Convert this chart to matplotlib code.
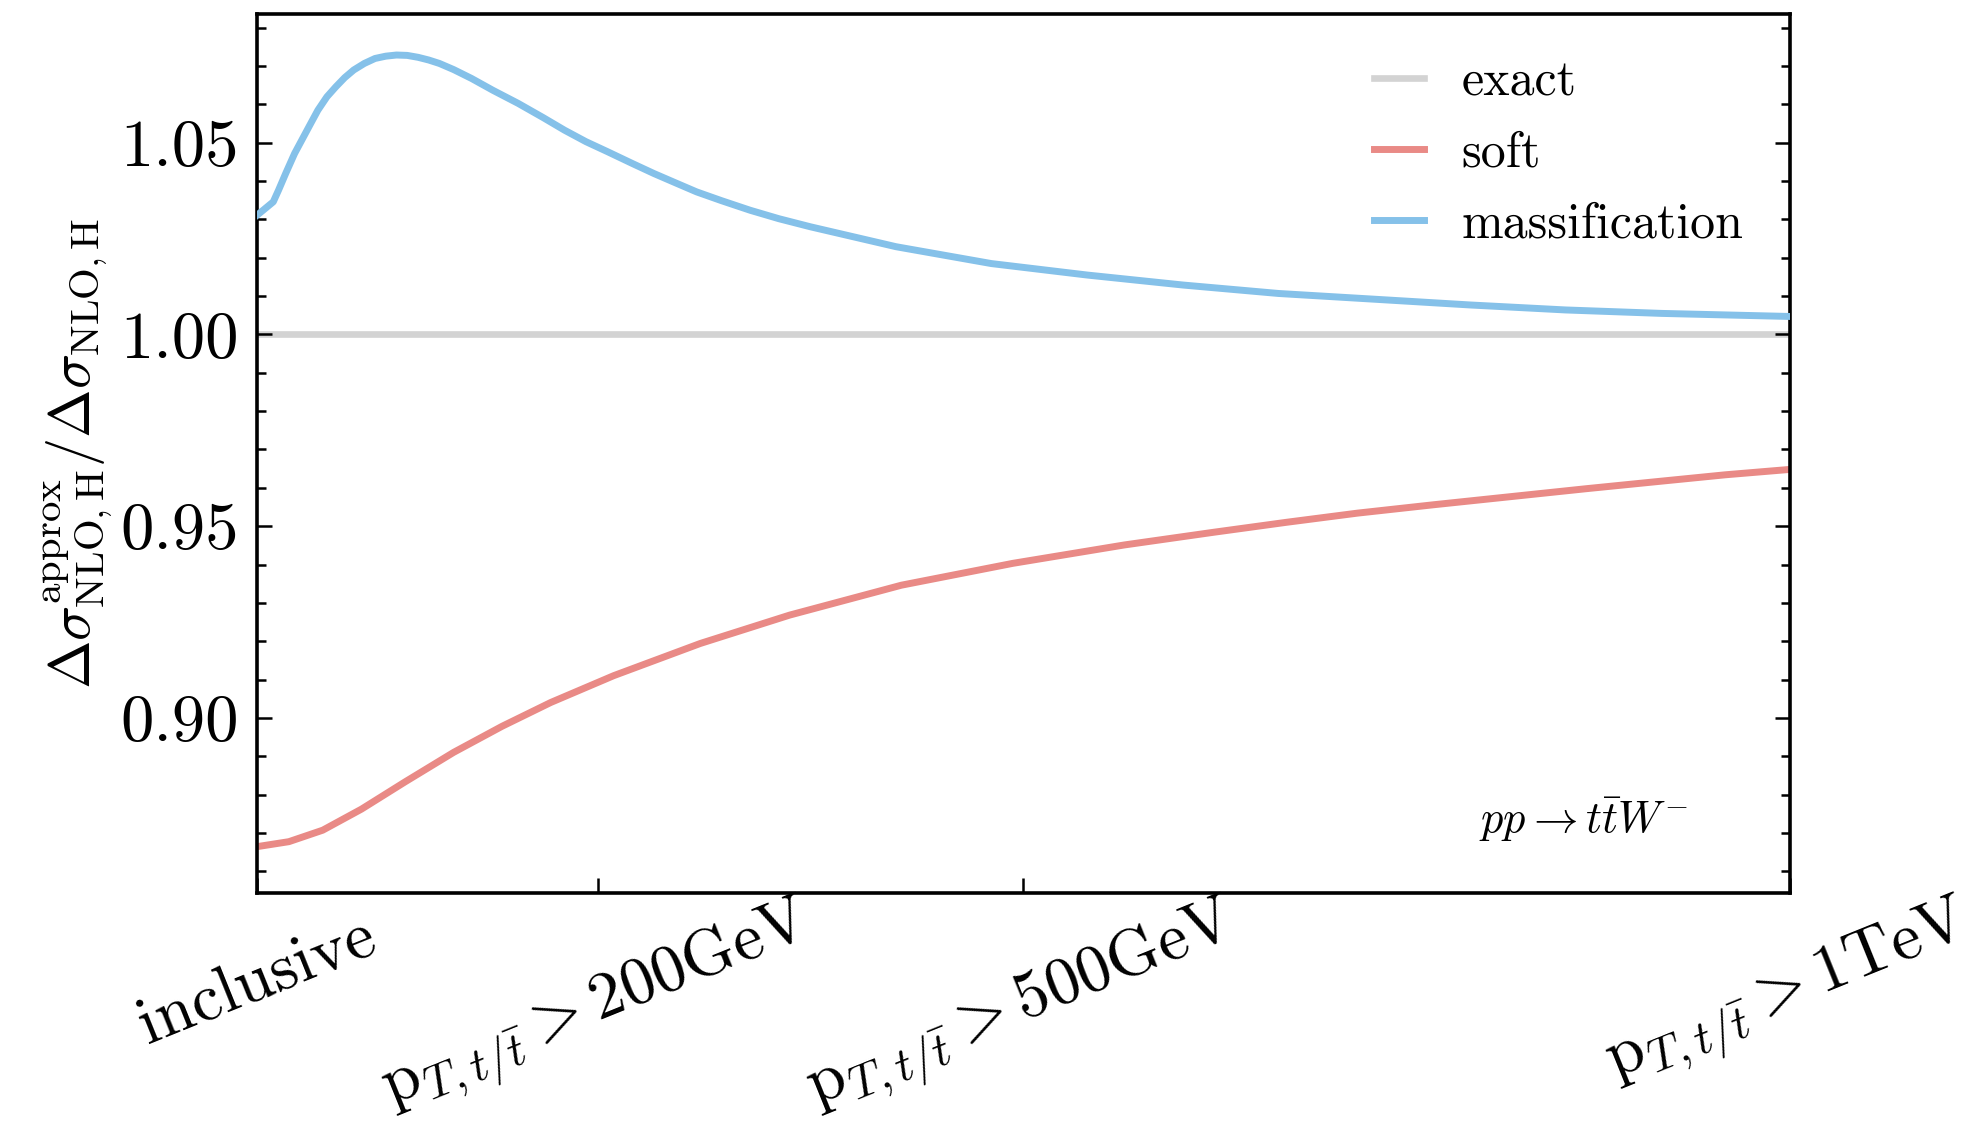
import numpy as np
import matplotlib
matplotlib.use('Agg')
import matplotlib.pyplot as plt
from matplotlib.ticker import MultipleLocator


def setup_pyplot():
    plt.rcParams['font.family'] = 'serif'
    plt.rcParams['font.serif'] = ['cmr10']
    plt.rcParams['mathtext.fontset'] = 'cm'
    plt.rcParams['axes.unicode_minus'] = False
    plt.rcParams['axes.formatter.use_mathtext'] = True
    plt.rcParams['xtick.direction'] = 'in'
    plt.rcParams['ytick.direction'] = 'in'


# x position of the pT cut along the axis (axis units, 0 = inclusive, 1000 = 1 TeV)
x_mass = [0, 10.6, 14.1, 18.7, 24.5, 30.4, 35.1, 39.7, 45.6, 51.4, 57.2, 63.1, 70.0,
          77.0, 84.0, 91.0, 98.0, 105.1, 112.0, 119.0, 128.3, 139.9, 153.9, 170.3,
          186.6, 200.6, 214.6, 228.6, 244.9, 258.9, 272.8, 286.8, 303.1, 321.8,
          340.5, 361.0, 416.9, 479.1, 541.8, 604.2, 666.4, 729.1, 791.5, 853.8,
          916.4, 1000]
r_mass = [1.0311, 1.0346, 1.0377, 1.0420, 1.0472, 1.0516, 1.0551, 1.0585, 1.0620,
          1.0646, 1.0670, 1.0690, 1.0707, 1.0720, 1.0726, 1.0729, 1.0728, 1.0723,
          1.0716, 1.0707, 1.0691, 1.0668, 1.0637, 1.0603, 1.0566, 1.0533, 1.0503,
          1.0477, 1.0446, 1.0420, 1.0396, 1.0372, 1.0349, 1.0324, 1.0302, 1.0281,
          1.0229, 1.0185, 1.0155, 1.0129, 1.0107, 1.0092, 1.0077, 1.0064, 1.0055,
          1.0047]

x_soft = [0, 20.8, 42.9, 68.2, 96.6, 128.3, 159.9, 191.6, 232.7, 289.2, 347.5, 420.4,
          493.1, 565.9, 624.0, 671.5, 718.0, 768.0, 817.9, 867.9, 917.8, 958.0, 1000]
r_soft = [0.8664, 0.8677, 0.8707, 0.8762, 0.8833, 0.8910, 0.8978, 0.9040, 0.9110,
          0.9194, 0.9268, 0.9346, 0.9403, 0.9451, 0.9484, 0.9510, 0.9534, 0.9556,
          0.9577, 0.9598, 0.9618, 0.9634, 0.9648]

x_exact = [0, 1000]
r_exact = [1.0, 1.0]

cut_ticks = [0, 222.5, 500, 1000]
cut_labels = ['inclusive',
              r'$\mathrm{p}_{T,t/\bar{t}} > 200\mathrm{GeV}$',
              r'$\mathrm{p}_{T,t/\bar{t}} > 500\mathrm{GeV}$',
              r'$\mathrm{p}_{T,t/\bar{t}} > 1\mathrm{TeV}$']

y_ticks = [0.90, 0.95, 1.00, 1.05]
y_labels = ['0.90', '0.95', '1.00', '1.05']


def ratio_plot():
    fig = plt.figure(figsize=(19.68, 11.29), dpi=100)
    ax = fig.add_axes([0.1306, 0.209, 0.7788, 0.7786])

    ax.plot(x_exact, r_exact, color='#d3d3d3', lw=4.8, label='exact', zorder=1)
    ax.plot(x_soft, r_soft, color='#e98a86', lw=5, label='soft', zorder=2)
    ax.plot(x_mass, r_mass, color='#85c1e9', lw=5, label='massification', zorder=3)

    ax.set_xlim((0, 1000))
    ax.set_ylim((0.8543, 1.0836))

    ax.set_xticks(cut_ticks)
    ax.set_xticklabels(cut_labels, rotation=22, ha='center', fontsize=48)
    ax.set_yticks(y_ticks)
    ax.set_yticklabels(y_labels, fontsize=48)
    ax.yaxis.set_minor_locator(MultipleLocator(0.01))

    ax.tick_params(axis='x', which='major', length=11, width=1.8, pad=10, top=False)
    ax.tick_params(axis='y', which='major', length=11, width=1.8, pad=13, right=True)
    ax.tick_params(axis='y', which='minor', length=6.5, width=1.8, right=True)
    # the math labels sit a bit higher than the plain one
    for tick in ax.xaxis.get_major_ticks()[1:]:
        tick.set_pad(-3)
    for sp in ax.spines.values():
        sp.set_linewidth(2.6)

    ax.set_ylabel(r'$\Delta\sigma^{\rm approx}_{\rm NLO,H}/\Delta\sigma_{\rm NLO,H}$',
                  fontsize=42, labelpad=4)

    ax.legend(loc='upper left', bbox_to_anchor=(0.729, 0.948), frameon=False,
              fontsize=36, handlelength=1.0, handletextpad=0.75, labelspacing=0.5,
              borderpad=0, borderaxespad=0)

    ax.text(0.934, 0.068, r'$pp \to t\bar{t}W^{-}$', transform=ax.transAxes,
            fontsize=32, ha='right', va='baseline')

    plt.savefig('out.png', dpi=100)


if __name__ == '__main__':
    setup_pyplot()
    ratio_plot()
